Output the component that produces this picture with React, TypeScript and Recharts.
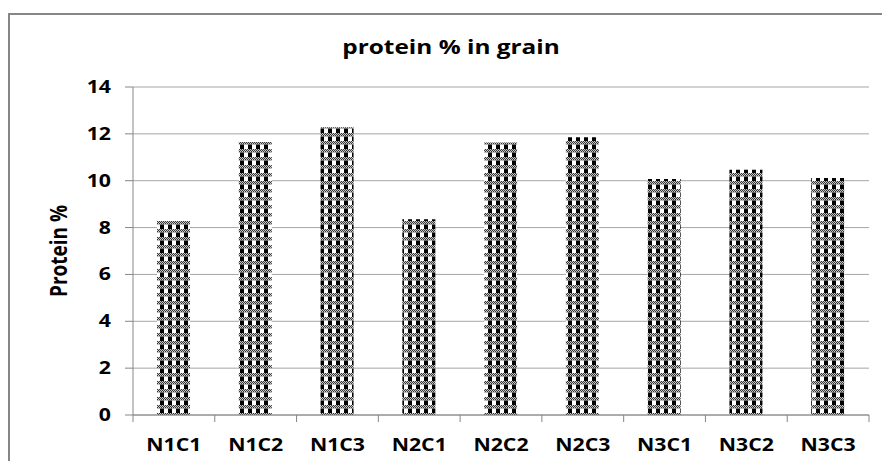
import React from "react";
import { BarChart, Bar, XAxis, YAxis, CartesianGrid } from "recharts";

const CATEGORIES = ["N1C1", "N1C2", "N1C3", "N2C1", "N2C2", "N2C3", "N3C1", "N3C2", "N3C3"];
const PROTEIN = [8.28, 11.65, 12.28, 8.36, 11.63, 11.85, 10.07, 10.47, 10.12];
const Y_TICKS = [0, 2, 4, 6, 8, 10, 12, 14];
const TITLE = "protein % in grain";
const Y_LABEL = "Protein %";

const data = CATEGORIES.map((name, i) => ({ name, protein: PROTEIN[i] }));

const FONT = "'Open Sans', 'DejaVu Sans', sans-serif";
const STRETCH = 1.25;
const AXIS_COLOR = "#868686";
const GRID_COLOR = "#a6a6a6";

const DITHER: Array<[number, number]> = [];
for (let yy = 5; yy < 8; yy++) {
  for (let xx = 0; xx < 8; xx++) {
    if ((xx + yy) % 2 === 0) DITHER.push([xx, yy]);
  }
}

const YTick = (props: any) => {
  const { x, y, payload } = props;
  return (
    <g transform={`translate(${x} ${y}) scale(${STRETCH} 1)`}>
      <text x={0} y={6} textAnchor="end" fontFamily={FONT} fontWeight={700} fontSize={17} fill="#000">
        {payload.value}
      </text>
    </g>
  );
};

const XTick = (props: any) => {
  const { x, y, payload, width, index } = props;
  const band = width / CATEGORIES.length;
  const left = x - band / 2;
  const right = x + band / 2;
  return (
    <g>
      <line x1={left} y1={y} x2={left} y2={y + 7} stroke={AXIS_COLOR} strokeWidth={1} />
      {index === CATEGORIES.length - 1 && (
        <line x1={right} y1={y} x2={right} y2={y + 7} stroke={AXIS_COLOR} strokeWidth={1} />
      )}
      <g transform={`translate(${x} ${y + 36}) scale(${STRETCH} 1)`}>
        <text x={0} y={0} textAnchor="middle" fontFamily={FONT} fontWeight={700} fontSize={17} fill="#000">
          {payload.value}
        </text>
      </g>
    </g>
  );
};

const YLabel = (props: any) => {
  const vb = props.viewBox || { x: 0, y: 87, width: 133, height: 328 };
  const cx = vb.x + 67;
  const cy = vb.y + vb.height / 2;
  return (
    <g transform={`translate(${cx} ${cy}) scale(${STRETCH} 1) rotate(-90)`}>
      <text x={0} y={0} textAnchor="middle" fontFamily={FONT} fontWeight={700} fontSize={19} fill="#000">
        {Y_LABEL}
      </text>
    </g>
  );
};

export default function App() {
  return (
    <div style={{ position: "absolute", left: 0, top: 0, width: 882, height: 461, overflow: "hidden", background: "#fff" }}>
      <svg width={882} height={461} style={{ position: "absolute", left: 0, top: 0 }}>
        <defs>
          <pattern id="checker" patternUnits="userSpaceOnUse" width={8} height={8}>
            <rect x={0} y={0} width={8} height={8} fill="#ffffff" />
            <rect x={0} y={5} width={8} height={3} fill="#c8c8c8" />
            {DITHER.map(([dx, dy], i) => (
              <rect key={i} x={dx} y={dy} width={1} height={1} fill="#333" />
            ))}
            <rect x={0} y={1} width={4} height={4} fill="#000000" />
            <rect x={0} y={0} width={4} height={1} fill="#666" />
            <rect x={4} y={0} width={4} height={1} fill="#bbb" />
          </pattern>
        </defs>
        <rect x={9} y={14} width={900} height={500} fill="none" stroke={AXIS_COLOR} strokeWidth={2} />
        <g transform={`translate(451 54) scale(1.22 1)`}>
          <text x={0} y={0} textAnchor="middle" fontFamily={FONT} fontWeight={700} fontSize={20} fill="#000">
            {TITLE}
          </text>
        </g>
      </svg>
      <div style={{ position: "absolute", left: 0, top: 0 }}>
        <BarChart width={882} height={461} data={data} margin={{ top: 87, right: 13, bottom: 0, left: 0 }}>
          <CartesianGrid vertical={false} stroke={GRID_COLOR} strokeWidth={1} />
          <XAxis
            dataKey="name"
            height={46}
            axisLine={{ stroke: AXIS_COLOR }}
            tickLine={false}
            tickSize={0}
            tickMargin={0}
            interval={0}
            tick={<XTick />}
          />
          <YAxis
            width={133}
            domain={[0, 14]}
            ticks={Y_TICKS}
            interval={0}
            axisLine={{ stroke: AXIS_COLOR }}
            tickLine={{ stroke: AXIS_COLOR }}
            tickSize={8}
            tickMargin={14}
            tick={<YTick />}
            label={{ content: <YLabel /> }}
          />
          <Bar dataKey="protein" fill="url(#checker)" barSize={33} isAnimationActive={false} />
        </BarChart>
      </div>
    </div>
  );
}
